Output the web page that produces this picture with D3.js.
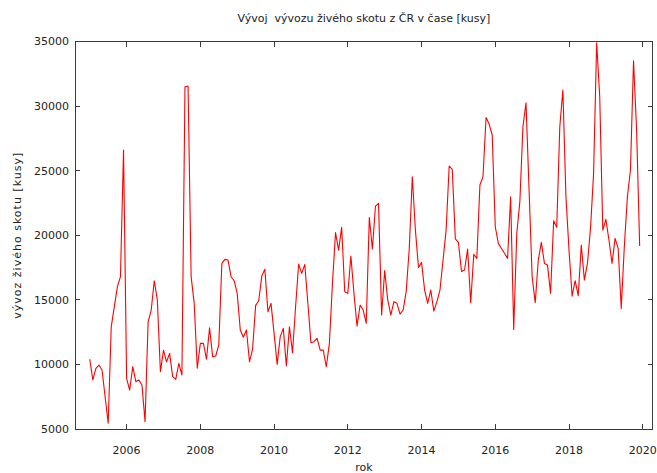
<!DOCTYPE html>
<html>
<head>
<meta charset="utf-8">
<script src="https://cdn.jsdelivr.net/npm/d3@7"></script>
<style>
  html, body { margin: 0; padding: 0; background: #fff; }
  svg text { font-family: "DejaVu Sans", sans-serif; fill: #222; }
</style>
</head>
<body>
<div id="chart"></div>
<script>
"use strict";

// monthly export of live cattle, one array per year (Jan..Dec)
var years = [2005, 2006, 2007, 2008, 2009, 2010, 2011, 2012, 2013, 2014, 2015, 2016, 2017, 2018, 2019];
var v2005 = [10400, 8800, 9700, 9950, 9570, 7500, 5440, 12920, 14470, 16000, 16800, 26600];
var v2006 = [8900, 8020, 9830, 8660, 8800, 8400, 5570, 13300, 14200, 16480, 14980, 9440];
var v2007 = [11100, 10200, 10850, 9050, 8840, 10080, 9180, 31500, 31550, 16800, 14730, 9700];
var v2008 = [11630, 11630, 10400, 12840, 10600, 10650, 11500, 17820, 18130, 18080, 16790, 16480];
var v2009 = [15500, 12660, 12100, 12660, 10210, 11170, 14570, 14930, 16840, 17360, 14080, 14730];
var v2010 = [12400, 10000, 12150, 12790, 9880, 12920, 10910, 14470, 17770, 17050, 17740, 14730];
var v2011 = [11680, 11760, 12020, 11110, 11110, 9820, 11630, 16270, 20200, 18850, 20610, 15630];
var v2012 = [15500, 18390, 15500, 12970, 14600, 14210, 13180, 21380, 18930, 22260, 22470, 13820];
var v2013 = [17260, 14990, 13820, 14860, 14730, 13900, 14210, 15630, 18980, 24530, 20400, 17510];
var v2014 = [17900, 15760, 14730, 15760, 14130, 14860, 15760, 18080, 20400, 25360, 25100, 19710];
var v2015 = [19450, 17200, 17310, 18930, 14780, 18520, 18210, 23890, 24530, 29120, 28610, 27760];
var v2016 = [20660, 19370, 18980, 18600, 18210, 22980, 12710, 20140, 22600, 28400, 30260, 23500];
var v2017 = [16790, 14780, 18080, 19450, 17820, 17690, 15500, 21120, 20610, 28400, 31240, 22980];
var v2018 = [18850, 15290, 16480, 15320, 19240, 16530, 17820, 20530, 24790, 34900, 30720, 20400];
var v2019 = [21230, 19630, 17820, 19760, 18980, 14340, 19110, 22980, 25050, 33510, 28150, 19160];

var xTicks = [2006, 2008, 2010, 2012, 2014, 2016, 2018, 2020];
var yTicks = [5000, 10000, 15000, 20000, 25000, 30000, 35000];

var chartTitle = "Vývoj  vývozu živého skotu z ČR v čase [kusy]";
var xLabel = "rok";
var yLabel = "vývoz živého skotu [kusy]";

(function() {
  var width, height, margin, svg, g, x, y, data, line, perYear, tickLen;

  width = 657;
  height = 473;
  margin = {top: 41.5, right: 4.3, bottom: 44, left: 75};
  tickLen = 5;

  // flatten the yearly arrays into one monthly series
  perYear = [v2005, v2006, v2007, v2008, v2009, v2010, v2011, v2012, v2013, v2014, v2015, v2016, v2017, v2018, v2019];
  data = [];
  years.forEach(function(yr, i) {
    perYear[i].forEach(function(v, m) {
      data.push({t: yr + m / 12, v: v});
    });
  });

  x = d3.scaleLinear()
    .domain([2004.6, 2020.27])
    .range([margin.left, width - margin.right]);

  y = d3.scaleLinear()
    .domain([5000, 35000])
    .range([height - margin.bottom, margin.top]);

  svg = d3.select("#chart").append("svg")
    .attr("width", width)
    .attr("height", height);

  // title
  svg.append("text")
    .attr("x", (x.range()[0] + x.range()[1]) / 2)
    .attr("y", 22)
    .attr("text-anchor", "middle")
    .style("font-size", "11px")
    .style("white-space", "pre")
    .text(chartTitle);

  // data line
  line = d3.line()
    .x(function(d) { return x(d.t); })
    .y(function(d) { return y(d.v); });

  svg.append("path")
    .datum(data)
    .attr("fill", "none")
    .attr("stroke", "#ff0000")
    .attr("stroke-width", 1.1)
    .attr("stroke-linejoin", "round")
    .attr("d", line);

  g = svg.append("g")
    .attr("stroke", "#3a3a3a")
    .attr("stroke-width", 1)
    .attr("shape-rendering", "crispEdges");

  // border
  g.append("rect")
    .attr("x", x.range()[0])
    .attr("y", y.range()[1])
    .attr("width", x.range()[1] - x.range()[0])
    .attr("height", y.range()[0] - y.range()[1])
    .attr("fill", "none");

  // ticks on all four sides, pointing inwards (gnuplot mirror)
  xTicks.forEach(function(t) {
    g.append("line").attr("x1", x(t)).attr("x2", x(t))
      .attr("y1", y.range()[0]).attr("y2", y.range()[0] - tickLen);
    g.append("line").attr("x1", x(t)).attr("x2", x(t))
      .attr("y1", y.range()[1]).attr("y2", y.range()[1] + tickLen);
  });
  yTicks.forEach(function(t) {
    g.append("line").attr("y1", y(t)).attr("y2", y(t))
      .attr("x1", x.range()[0]).attr("x2", x.range()[0] + tickLen);
    g.append("line").attr("y1", y(t)).attr("y2", y(t))
      .attr("x1", x.range()[1]).attr("x2", x.range()[1] - tickLen);
  });

  // tick labels
  svg.selectAll(".xlab")
    .data(xTicks)
    .enter()
    .append("text")
    .attr("class", "xlab")
    .attr("x", function(d) { return x(d); })
    .attr("y", 454)
    .attr("text-anchor", "middle")
    .style("font-size", "11px")
    .text(function(d) { return d; });

  svg.selectAll(".ylab")
    .data(yTicks)
    .enter()
    .append("text")
    .attr("class", "ylab")
    .attr("x", 69)
    .attr("y", function(d) { return y(d); })
    .attr("dy", "0.35em")
    .attr("text-anchor", "end")
    .style("font-size", "11px")
    .text(function(d) { return d; });

  // axis titles
  svg.append("text")
    .attr("x", (x.range()[0] + x.range()[1]) / 2)
    .attr("y", 471)
    .attr("text-anchor", "middle")
    .style("font-size", "11px")
    .text(xLabel);

  svg.append("text")
    .attr("transform", "translate(21," + ((y.range()[0] + y.range()[1]) / 2) + ") rotate(-90)")
    .attr("text-anchor", "middle")
    .style("font-size", "11px")
    .style("letter-spacing", "1px")
    .text(yLabel);
}).call(this);
</script>
</body>
</html>
